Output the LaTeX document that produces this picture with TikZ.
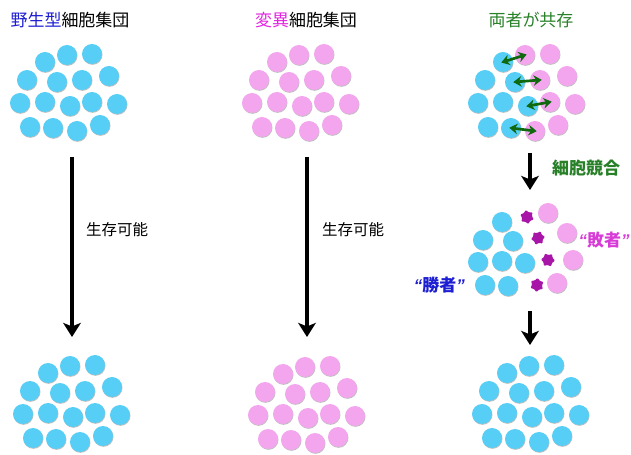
\documentclass[tikz,border=0pt]{standalone}
\usepackage{fontspec}
\setmainfont{Noto Sans CJK JP}
\newfontfamily\quotefont{Liberation Sans}
\usetikzlibrary{arrows.meta,shapes.geometric,shadows}

\definecolor{cellblue}{RGB}{86,206,245}
\definecolor{cellpink}{RGB}{243,166,238}
\definecolor{splatpurple}{RGB}{168,22,168}
\definecolor{wtblue}{RGB}{30,30,210}
\definecolor{mtmagenta}{RGB}{225,40,225}
\definecolor{losermagenta}{RGB}{215,60,215}
\definecolor{titlegreen}{RGB}{40,128,40}
\definecolor{arrowgreen}{RGB}{15,105,15}

\newcommand\qopen{{\quotefont\bfseries\itshape “}}
\newcommand\qclose{{\quotefont\bfseries\itshape ”}}

% cell centres of one colony (px, relative)
\def\cellpos{1/45/62,2/67/55,3/92/54,4/27/80,5/57/82,6/82/80,7/109/76,
  8/20/103,9/45/102,10/70/106,11/92/102,12/117/104,
  13/30/127,14/53/128,15/77/131,16/100/125}

\begin{document}
\begin{tikzpicture}[x=0.03cm,y=-0.03cm,
	cell/.style={circle, minimum size=6mm, inner sep=0pt,
	drop shadow={shadow xshift=0.4pt, shadow yshift=-0.7pt, opacity=0.25, fill=black}},
	wt/.style={cell, fill=cellblue},
	mt/.style={cell, fill=cellpink},
	splat/.style={star, star points=6, star point ratio=1.45, fill=splatpurple,
	minimum size=4.3mm, inner sep=0pt, rounded corners=0.8pt},
	tug/.style={{Stealth[length=7pt,width=9pt]}-{Stealth[length=7pt,width=9pt]},
	line width=2.3pt, draw=arrowgreen, shorten <=-1.5pt, shorten >=-1.5pt},
	fate/.style={-{Stealth[length=12pt,width=15pt,inset=3pt]}, line width=2.6pt},
	heading/.style={font=\fontsize{14.5}{16}\selectfont},
	note/.style={anchor=west, font=\fontsize{13.2}{15}\selectfont},
	tag/.style={font=\fontsize{14.5}{16}\selectfont\bfseries}
	]
	\useasboundingbox (0,0) rectangle (631,455);
	
	% headings
	\node[heading] (h1) at (70,20) {\textcolor{wtblue}{野生型}細胞集団};
	\node[heading] (h2) at (306,20) {\textcolor{mtmagenta}{変異}細胞集団};
	\node[heading, text=titlegreen] (h3) at (531,20) {両者が共存};
	
	% pure colonies, before and after
	\foreach \c/\s/\dx/\dy in {wa/wt/0/0, ma/mt/232/0, wb/wt/3/311,
		mb/mt/238/312, fb/wt/462/311}
	{
		\begin{scope}[shift={(\dx,\dy)}]
			\foreach \i/\x/\y in \cellpos
			\node[\s] (\c\i) at (\x,\y) {};
		\end{scope}
	}
	
	% mixed colony
	\begin{scope}[shift={(458,0)}]
		\foreach \i/\x/\y/\s in {1/45/62/wt,2/67/55/mt,3/92/54/mt,
			4/27/80/wt,5/57/82/wt,6/82/80/mt,7/109/76/mt,
			8/20/103/wt,9/45/102/wt,10/70/106/wt,11/92/102/mt,12/117/104/mt,
			13/30/127/wt,14/53/128/wt,15/77/131/mt,16/100/125/mt}
		\node[\s] (co\i) at (\x,\y) {};
	\end{scope}
	\draw[tug] (co1.center) -- (co2.center);
	\draw[tug] (co5.center) -- (co6.center);
	\draw[tug] (co10.center) -- (co11.center);
	\draw[tug] (co14.center) -- (co15.center);
	
	% competition
	\foreach \i/\x/\y in {1/502/222,2/483/240,3/513/241,4/478/262,
		5/502/261,6/525/263,7/485/285,8/508/286}
	\node[wt] (win\i) at (\x,\y) {};
	\foreach \i/\x/\y in {1/548/213,2/567/233,3/573/260,4/557/283}
	\node[mt] (lose\i) at (\x,\y) {};
	\foreach \i/\x/\y/\r in {1/527/217/10,2/538/238/-20,3/548/260/25,4/537/285/-5}
	\node[splat, rotate=\r] (dead\i) at (\x,\y) {};
	
	\node[tag, text=wtblue, anchor=east] (winner) at (469,285) {\qopen 勝者\qclose};
	\node[tag, text=losermagenta, anchor=east, inner xsep=1pt] (loser) at (631,240) {\qopen 敗者\qclose};
	
	% arrows
	\coordinate (a1s) at (72,157);  \coordinate (a1e) at (72,337);
	\coordinate (a2s) at (307,157); \coordinate (a2e) at (307,337);
	\coordinate (a3s) at (530,153); \coordinate (a3e) at (530,190);
	\coordinate (a4s) at (530,311); \coordinate (a4e) at (530,345);
	\draw[fate] (a1s) -- (a1e);
	\draw[fate] (a2s) -- (a2e);
	\draw[fate] (a3s) -- (a3e);
	\draw[fate] (a4s) -- (a4e);
	
	\node[note] (surv1) at (82,230) {生存可能};
	\node[note] (surv2) at (318,230) {生存可能};
	\node[tag, text=titlegreen, anchor=west] (comp) at (548,168) {細胞競合};
\end{tikzpicture}
\end{document}
